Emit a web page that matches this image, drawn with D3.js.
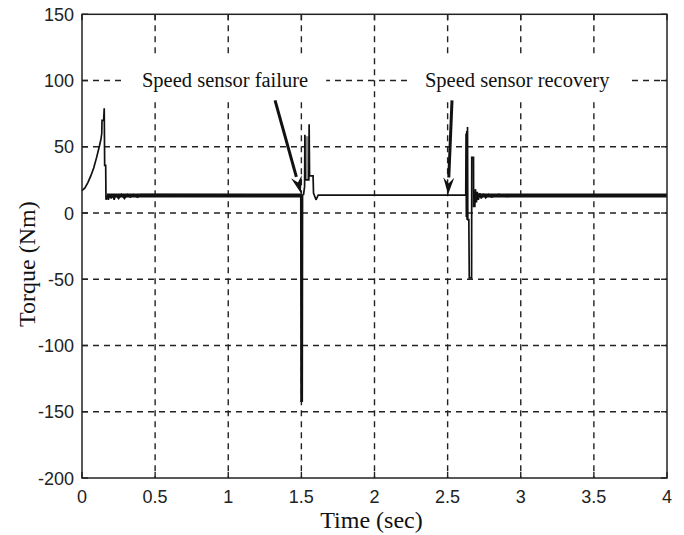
<!DOCTYPE html>
<html>
<head>
<meta charset="utf-8">
<script src="https://cdn.jsdelivr.net/npm/d3@7"></script>
<style>
  html, body { margin: 0; padding: 0; background: #fff; }
  svg { display: block; }
</style>
</head>
<body>
<svg id="chart" width="684" height="535"></svg>
<script>
// ---------- data ----------
const xTicks = [0, 0.5, 1, 1.5, 2, 2.5, 3, 3.5, 4];
const yTicks = [-200, -150, -100, -50, 0, 50, 100, 150];
const xTickLabels = ["0", "0.5", "1", "1.5", "2", "2.5", "3", "3.5", "4"];
const yTickLabels = ["-200", "-150", "-100", "-50", "0", "50", "100", "150"];
const xTitle = "Time (sec)";
const yTitle = "Torque (Nm)";

// torque trace: [time (s), torque (Nm)]
const torqueTrace = [
  [0, 17], [0.02, 19], [0.04, 23], [0.06, 28], [0.08, 34], [0.1, 42], [0.12, 51],
  [0.13, 56], [0.135, 60], [0.137, 70], [0.148, 70], [0.152, 79], [0.155, 36],
  [0.162, 36], [0.164, 10], [0.17, 13],
  [0.18, 10], [0.19, 14], [0.2, 11], [0.21, 14], [0.22, 10], [0.23, 14], [0.25, 11],
  [0.27, 14], [0.29, 11], [0.31, 14], [0.33, 12], [0.35, 14], [0.38, 12], [0.4, 14],
  [1.496, 13.5], [1.498, -142], [1.501, -142], [1.503, 13.5], [1.504, -142],
  [1.506, -142], [1.508, 13.5],
  [1.515, 14], [1.522, 20], [1.524, 59], [1.526, 25], [1.551, 25], [1.553, 67],
  [1.556, 28], [1.58, 28], [1.583, 15], [1.6, 10], [1.615, 13.5],
  [2.624, 13.5], [2.626, 60], [2.628, -3], [2.631, 62], [2.633, -5], [2.636, 65],
  [2.638, -5], [2.645, -5], [2.648, -49], [2.664, -49], [2.665, 42], [2.677, 42],
  [2.678, 5], [2.686, 5], [2.69, 18], [2.697, 8], [2.703, 16], [2.71, 10], [2.72, 15],
  [2.73, 11], [2.745, 14.5], [2.76, 11.5], [2.78, 14], [2.8, 12], [2.85, 14],
  [2.9, 12.5], [3.0, 13.5], [4, 13.5]
];
// fast oscillation after the failure (rendered grey): [t0, t1, low, high]
const oscBand = [[1.526, 1.551, 25, 58]];
// intervals with high-frequency ripple (rendered as a thick trace): [t0, t1, level]
const rippleBands = [[0.17, 1.497, 13.3], [2.7, 4, 13.3]];

// annotations: text, text start (t, torque), arrow start and tip (t, torque)
const annotations = [
  { text: "Speed sensor failure",  tx: 0.41,  ty: 100, from: [1.32, 85], to: [1.497, 15] },
  { text: "Speed sensor recovery", tx: 2.345, ty: 100, from: [2.53, 85], to: [2.503, 14] }
];

// ---------- layout ----------
const W = 684, H = 535;
const plot = { left: 82, right: 667, top: 14.3, bottom: 478 };
const svg = d3.select("#chart");
svg.append("rect").attr("width", W).attr("height", H).attr("fill", "#fff");

const x = d3.scaleLinear().domain([0, 4]).range([plot.left, plot.right]);
const y = d3.scaleLinear().domain([-200, 150]).range([plot.bottom, plot.top]);

const axisColor = "#222";
const gridDash = "6,5";

// grid
const grid = svg.append("g");
grid.selectAll(".vg").data(xTicks.slice(1, -1)).join("line")
  .attr("x1", d => x(d)).attr("x2", d => x(d))
  .attr("y1", plot.top).attr("y2", plot.bottom)
  .attr("stroke", axisColor).attr("stroke-width", 1.4)
  .attr("stroke-dasharray", gridDash);
grid.selectAll(".hg").data(yTicks.slice(1, -1)).join("line")
  .attr("x1", plot.left).attr("x2", plot.right)
  .attr("y1", d => y(d)).attr("y2", d => y(d))
  .attr("stroke", axisColor).attr("stroke-width", 1.4)
  .attr("stroke-dasharray", gridDash);

// annotation label backgrounds (they hide the grid behind the text)
const serif = "'Liberation Serif', 'Times New Roman', serif";
const annG = svg.append("g");
annotations.forEach(a => {
  const t = annG.append("text")
    .attr("x", x(a.tx)).attr("y", y(a.ty) + 6)
    .attr("font-family", serif).attr("font-size", 20.5)
    .attr("fill", "#111").text(a.text);
  const bb = t.node().getBBox();
  annG.insert("rect", "text")
    .attr("x", bb.x - 18).attr("y", bb.y - 11)
    .attr("width", bb.width + 36).attr("height", bb.height + 18)
    .attr("fill", "#fff");
});

// ticks (inside, all four sides)
const tk = 6;
const ticks = svg.append("g").attr("stroke", axisColor).attr("stroke-width", 1.4);
xTicks.forEach(d => {
  ticks.append("line").attr("x1", x(d)).attr("x2", x(d)).attr("y1", plot.bottom).attr("y2", plot.bottom - tk);
  ticks.append("line").attr("x1", x(d)).attr("x2", x(d)).attr("y1", plot.top).attr("y2", plot.top + tk);
});
yTicks.forEach(d => {
  ticks.append("line").attr("y1", y(d)).attr("y2", y(d)).attr("x1", plot.left).attr("x2", plot.left + tk);
  ticks.append("line").attr("y1", y(d)).attr("y2", y(d)).attr("x1", plot.right).attr("x2", plot.right - tk);
});

// grey oscillation band
svg.append("g").selectAll("rect").data(oscBand).join("rect")
  .attr("x", d => x(d[0])).attr("width", d => x(d[1]) - x(d[0]))
  .attr("y", d => y(d[3])).attr("height", d => y(d[2]) - y(d[3]))
  .attr("fill", "#8a8a8a");

// ripple bands
svg.append("g").selectAll("line").data(rippleBands).join("line")
  .attr("x1", d => x(d[0])).attr("x2", d => x(d[1]))
  .attr("y1", d => y(d[2])).attr("y2", d => y(d[2]))
  .attr("stroke", "#111").attr("stroke-width", 4);

// trace
const line = d3.line().x(d => x(d[0])).y(d => y(d[1]));
svg.append("path").datum(torqueTrace)
  .attr("d", line).attr("fill", "none")
  .attr("stroke", "#111").attr("stroke-width", 1.7)
  .attr("stroke-linejoin", "miter").attr("stroke-miterlimit", 2);

// arrows
annotations.forEach(a => {
  const x0 = x(a.from[0]), y0 = y(a.from[1]);
  const x1 = x(a.to[0]), y1 = y(a.to[1]);
  const ang = Math.atan2(y1 - y0, x1 - x0);
  const L = 17, hw = 5.5;
  const bx = x1 - L * Math.cos(ang), by = y1 - L * Math.sin(ang);
  svg.append("line").attr("x1", x0).attr("y1", y0).attr("x2", bx).attr("y2", by)
    .attr("stroke", "#111").attr("stroke-width", 3);
  const px = -Math.sin(ang) * hw, py = Math.cos(ang) * hw;
  svg.append("path")
    .attr("d", `M${x1},${y1}L${bx + px},${by + py}L${bx + 0.35 * L * Math.cos(ang)},${by + 0.35 * L * Math.sin(ang)}L${bx - px},${by - py}Z`)
    .attr("fill", "#111");
});

// axes frame
svg.append("rect")
  .attr("x", plot.left).attr("y", plot.top)
  .attr("width", plot.right - plot.left).attr("height", plot.bottom - plot.top)
  .attr("fill", "none").attr("stroke", axisColor).attr("stroke-width", 1.5);

// tick labels
const sans = "'Liberation Sans', Arial, sans-serif";
svg.append("g").selectAll("text").data(xTicks).join("text")
  .attr("x", d => x(d)).attr("y", plot.bottom + 25)
  .attr("text-anchor", "middle").attr("font-family", sans).attr("font-size", 18)
  .attr("fill", "#222").text((d, i) => xTickLabels[i]);
svg.append("g").selectAll("text").data(yTicks).join("text")
  .attr("x", plot.left - 8).attr("y", d => y(d) + 6.5)
  .attr("text-anchor", "end").attr("font-family", sans).attr("font-size", 18)
  .attr("fill", "#222").text((d, i) => yTickLabels[i]);

// axis titles
svg.append("text")
  .attr("x", (plot.left + plot.right) / 2 - 3).attr("y", 528)
  .attr("text-anchor", "middle").attr("font-family", serif).attr("font-size", 24)
  .attr("fill", "#111").text(xTitle);
svg.append("text")
  .attr("transform", `translate(35, ${(plot.top + plot.bottom) / 2 + 18}) rotate(-90)`)
  .attr("text-anchor", "middle").attr("font-family", serif).attr("font-size", 24)
  .attr("fill", "#111").text(yTitle);
</script>
</body>
</html>
